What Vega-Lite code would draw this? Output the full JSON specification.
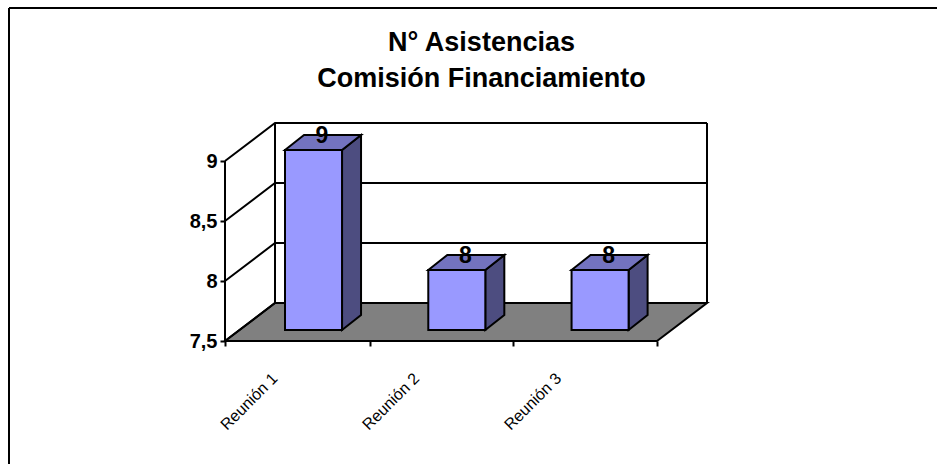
{
"$schema":"https://vega.github.io/schema/vega-lite/v6.json",
"width":937,"height":464,"padding":0,"autosize":"none",
"background":"white",
"view":{"stroke":null},
"config":{"font":"Liberation Sans"},
"title":{"text":["N° Asistencias","Comisión Financiamiento"],"font":"Liberation Sans","fontSize":27,"fontWeight":"bold","color":"#000000","anchor":"middle","dx":13,"offset":-93,"lineHeight":36},
"datasets":{"asistencias":[
{"reunion":"Reunión 1","indice":0,"asistencias":9},
{"reunion":"Reunión 2","indice":1,"asistencias":8},
{"reunion":"Reunión 3","indice":2,"asistencias":8}
],
"niveles":[{"nivel":7.5},{"nivel":8},{"nivel":8.5},{"nivel":9}]},
"encoding":{
"x":{"field":"x","type":"quantitative","scale":{"domain":[-1.5625,4.9444],"nice":false,"zero":false},
 "axis":{"orient":"bottom","offset":-123,"values":[0,1.01,2,3],"labels":false,"domain":false,"grid":false,"title":null,"tickColor":"#000000","tickSize":5,"tickWidth":2}},
"y":{"field":"y","type":"quantitative","scale":{"domain":[6.475,10.3417],"nice":false,"zero":false},
 "axis":{"orient":"left","offset":-225,"values":[7.5,8,8.5,9],"domain":false,"grid":false,"title":null,"tickColor":"#000000","tickSize":5,"tickWidth":2,"labelFont":"Liberation Sans","labelFontSize":20,"labelFontWeight":"bold","labelColor":"#000000","labelPadding":3,"labelExpr":"replace(format(datum.value,'~g'),'.',',')"}}
},
"layer":[
{"data":{"name":"suelo","values":[{"t":0},{"t":1},{"t":2},{"t":3}]},
 "transform":[{"calculate":"[0,0.3472,3,3.3472][datum.t]","as":"x"},{"calculate":"7.5+[0,0.3167,0.3167,0.3167][datum.t]","as":"y"},{"calculate":"7.5+[0,0,0,0.3167][datum.t]","as":"y2"}],
 "mark":{"type":"area","fill":"#808080","stroke":"#000000","strokeWidth":2,"clip":false},
 "encoding":{"y2":{"field":"y2"}}},
{"data":{"name":"niveles"},
 "transform":[{"calculate":"[0,1,2]","as":"t"},{"flatten":["t"]},{"calculate":"[0,0.3472,3.3472][datum.t]","as":"x"},{"calculate":"datum.nivel+[0,0.3167,0.3167][datum.t]","as":"y"}],
 "mark":{"type":"line","stroke":"#000000","strokeWidth":2,"interpolate":"linear"},
 "encoding":{"detail":{"field":"nivel"},"order":{"field":"t"}}},
{"data":{"values":[{"x":0,"profundidad":0},{"x":0.3472,"profundidad":0.3167},{"x":3.3472,"profundidad":0.3167}]},
 "transform":[{"calculate":"7.5+datum.profundidad","as":"y"},{"calculate":"9+datum.profundidad","as":"y2"}],
 "mark":{"type":"rule","stroke":"#000000","strokeWidth":2},
 "encoding":{"y2":{"field":"y2"}}},
{"data":{"values":[{"x":-1.5,"x2":4.9444,"y":10.275,"y2":10.275},{"x":-1.5,"x2":-1.5,"y":10.275,"y2":6.475}]},
 "mark":{"type":"rule","stroke":"#000000","strokeWidth":2},
 "encoding":{"x2":{"field":"x2"},"y2":{"field":"y2"}}},
{"data":{"name":"asistencias"},
 "transform":[{"calculate":"[0,1]","as":"t"},{"flatten":["t"]},{"calculate":"datum.indice*0.995+0.4167+0.396+datum.t*0.132","as":"x"},{"calculate":"datum.asistencias+0.0917+datum.t*0.125","as":"y"},{"calculate":"7.5917+datum.t*0.125","as":"y2"}],
 "mark":{"type":"area","fill":"#4D4D80","stroke":"#000000","strokeWidth":2},
 "encoding":{"detail":{"field":"reunion"},"y2":{"field":"y2"}}},
{"data":{"name":"asistencias"},
 "transform":[{"calculate":"[0,1,2,3]","as":"t"},{"flatten":["t"]},{"calculate":"datum.indice*0.995+0.4167+[0,0.132,0.396,0.528][datum.t]","as":"x"},{"calculate":"datum.asistencias+0.0917+[0,0.125,0.125,0.125][datum.t]","as":"y"},{"calculate":"datum.asistencias+0.0917+[0,0,0,0.125][datum.t]","as":"y2"}],
 "mark":{"type":"area","fill":"#7373BF","stroke":"#000000","strokeWidth":2},
 "encoding":{"detail":{"field":"reunion"},"y2":{"field":"y2"}}},
{"data":{"name":"asistencias"},
 "transform":[{"calculate":"datum.indice*0.995+0.4167","as":"x"},{"calculate":"datum.x+0.396","as":"x2"},{"calculate":"datum.asistencias+0.0917","as":"y"},{"calculate":"7.5917","as":"y2"}],
 "mark":{"type":"rect","fill":"#9999FF","stroke":"#000000","strokeWidth":2},
 "encoding":{"x2":{"field":"x2"},"y2":{"field":"y2"}}},
{"data":{"name":"asistencias"},
 "transform":[{"calculate":"datum.indice*0.995+0.4167+0.257","as":"x"},{"calculate":"datum.asistencias+0.0917+0.115","as":"y"}],
 "mark":{"type":"text","font":"Liberation Sans","fontSize":23,"fontWeight":"bold","color":"#000000","align":"center","baseline":"middle"},
 "encoding":{"text":{"field":"asistencias","type":"quantitative"}}},
{"data":{"name":"asistencias"},
 "transform":[{"calculate":"datum.indice*0.985+0.5","as":"x"},{"calculate":"7.5","as":"y"}],
 "mark":{"type":"text","font":"Liberation Sans","fontSize":16,"color":"#000000","align":"right","baseline":"middle","angle":-45,"xOffset":-22,"yOffset":35},
 "encoding":{"text":{"field":"reunion","type":"nominal"}}}
]
}
